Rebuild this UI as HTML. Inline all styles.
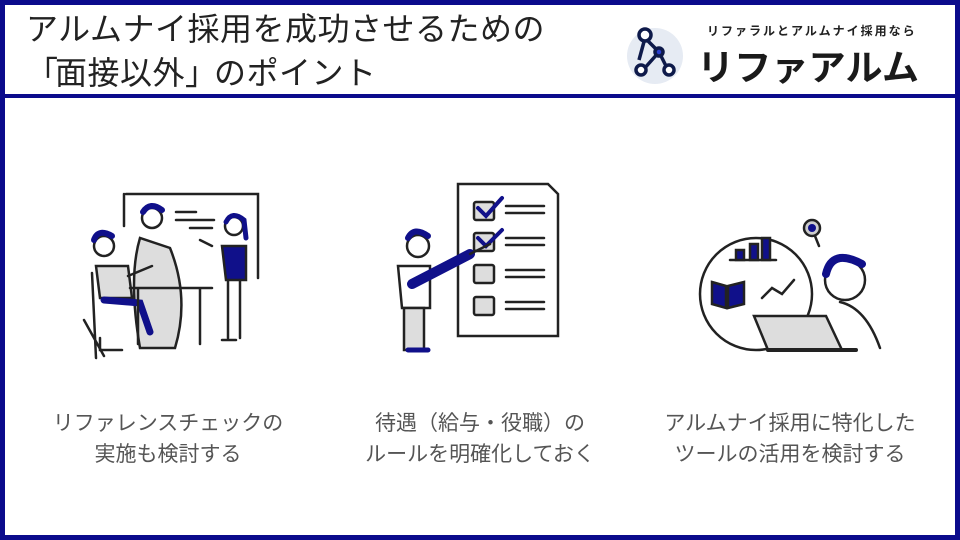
<!DOCTYPE html>
<html><head><meta charset="utf-8"><style>
html,body{margin:0;padding:0;background:#fff}
body{width:960px;height:540px;position:relative;overflow:hidden;font-family:"Liberation Sans","Noto Sans CJK JP",sans-serif}
.frame{position:absolute;left:0;top:0;width:950px;height:530px;border:5px solid #0b0b8c}
.sep{position:absolute;left:0;top:94px;width:960px;height:4px;background:#0b0b8c}
.title{position:absolute;left:26px;top:7px;font-size:32px;line-height:44px;color:#222;letter-spacing:0.5px}
.lab{position:absolute;width:340px;text-align:center;font-size:21px;line-height:31px;color:#555;top:408px}
</style></head><body>
<div class="frame"></div>
<div class="sep"></div>
<div class="title">アルムナイ採用を成功させるための<br><span style="letter-spacing:-3px">「</span>面接以外<span style="letter-spacing:-3px">」</span>のポイント</div>
<svg style="position:absolute;left:615px;top:18px" width="320" height="70">
<circle cx="40" cy="38" r="28" fill="#e6ebf3"/>
<g stroke="#0e1a4a" stroke-width="3.5" fill="#fff">
<line x1="30" y1="20" x2="44" y2="34"/><line x1="44" y1="34" x2="28" y2="52"/><line x1="44" y1="34" x2="52" y2="50"/><line x1="30" y1="20" x2="24" y2="42"/>
<circle cx="30" cy="17" r="6"/><circle cx="44" cy="34" r="4" fill="#2a3fd0"/><circle cx="26" cy="52" r="5"/><circle cx="54" cy="52" r="5"/>
</g>
<text x="92" y="17" font-size="12" fill="#222" font-weight="bold" font-family="Noto Sans CJK JP,sans-serif" letter-spacing="2">リファラルとアルムナイ採用なら</text>
<text x="82" y="62" font-size="36" fill="#1a1a1a" font-weight="bold" font-family="Noto Sans CJK JP,sans-serif" textLength="222" lengthAdjust="spacingAndGlyphs">リファアルム</text>
</svg>
<svg style="position:absolute;left:0;top:98px" width="960" height="300" fill="none" stroke="#222" stroke-width="2.5" stroke-linecap="round">
<path d="M124 96 V128 M126 96 H258 V180"/>
<path d="M140 140 Q128 180 140 250 L175 250 Q190 200 170 150 Z" fill="#ddd"/>
<circle cx="152" cy="120" r="10" fill="#fff"/><path d="M143 114 Q150 103 162 112" stroke="#10108a" stroke-width="6"/>
<path d="M176 114H196M176 122H214M190 130H212"/>
<circle cx="234" cy="128" r="9" fill="#fff"/><path d="M226 124 Q232 112 244 122 L246 140" stroke="#10108a" stroke-width="5"/>
<path d="M222 148 H246 V182 H226 Z" fill="#10108a"/><path d="M212 148 L200 142 M228 182 V240 M240 182 V240 M222 242 H236"/>
<path d="M96 260 L92 175 M84 222 L104 258"/>
<circle cx="104" cy="148" r="10" fill="#fff"/><path d="M94 142 Q98 130 112 138" stroke="#10108a" stroke-width="6"/>
<path d="M96 168 H128 L132 200 H100 Z" fill="#ddd"/><path d="M104 202 L140 205 L150 234" stroke="#10108a" stroke-width="7"/>
<path d="M130 190 H212 M138 190 V246 M200 190 V246 M128 178 L152 168"/>
<path d="M100 240 V252 H122"/>
<path d="M458 86 H548 L558 96 V238 H458 Z" fill="#fff"/>
<g fill="#ddd"><rect x="474" y="104" width="20" height="18" rx="2"/><rect x="474" y="135" width="20" height="18" rx="2"/><rect x="474" y="167" width="20" height="18" rx="2"/><rect x="474" y="199" width="20" height="18" rx="2"/></g>
<path d="M478 110 L486 118 L502 100 M478 140 L486 148 L502 132" stroke="#10108a" stroke-width="4"/>
<path d="M506 108H544M506 115H544M506 140H544M506 147H544M506 172H544M506 179H544M506 204H544M506 211H544"/>
<circle cx="418" cy="148" r="11" fill="#fff"/><path d="M408 140 Q414 128 428 138" stroke="#10108a" stroke-width="6"/>
<path d="M398 168 H430 V210 H402 Z" fill="#fff"/><path d="M404 210 H424 V252 H404 Z" fill="#ddd"/>
<path d="M408 252 H428" stroke="#10108a" stroke-width="5"/>
<path d="M412 186 L470 156" stroke="#10108a" stroke-width="10"/><path d="M470 156 L490 146"/>
<circle cx="756" cy="196" r="56" fill="#fff"/>
<path d="M730 162 H776"/><g fill="#10108a"><rect x="736" y="152" width="8" height="10"/><rect x="750" y="146" width="8" height="16"/><rect x="762" y="140" width="8" height="22"/></g>
<path d="M712 184 L726 188 L726 210 L712 206 Z M728 188 L744 184 L744 206 L728 210 Z" fill="#10108a"/>
<path d="M762 200 L772 190 L782 196 L794 182"/>
<circle cx="812" cy="130" r="8" fill="#ccc"/><circle cx="812" cy="130" r="4" fill="#10108a" stroke="none"/><path d="M815 138 L819 148"/>
<circle cx="845" cy="182" r="20" fill="#fff"/><path d="M826 176 Q832 150 862 166" stroke="#10108a" stroke-width="8"/>
<path d="M840 204 Q866 210 880 250"/>
<path d="M754 218 H826 L842 252 H768 Z" fill="#ddd"/><path d="M768 252 H856" stroke-width="4"/>
</svg>
<div class="lab" style="left:-2px">リファレンスチェックの<br>実施も検討する</div>
<div class="lab" style="left:310px">待遇（給与・役職）の<br>ルールを明確化しておく</div>
<div class="lab" style="left:620px">アルムナイ採用に特化した<br>ツールの活用を検討する</div>
</body></html>
